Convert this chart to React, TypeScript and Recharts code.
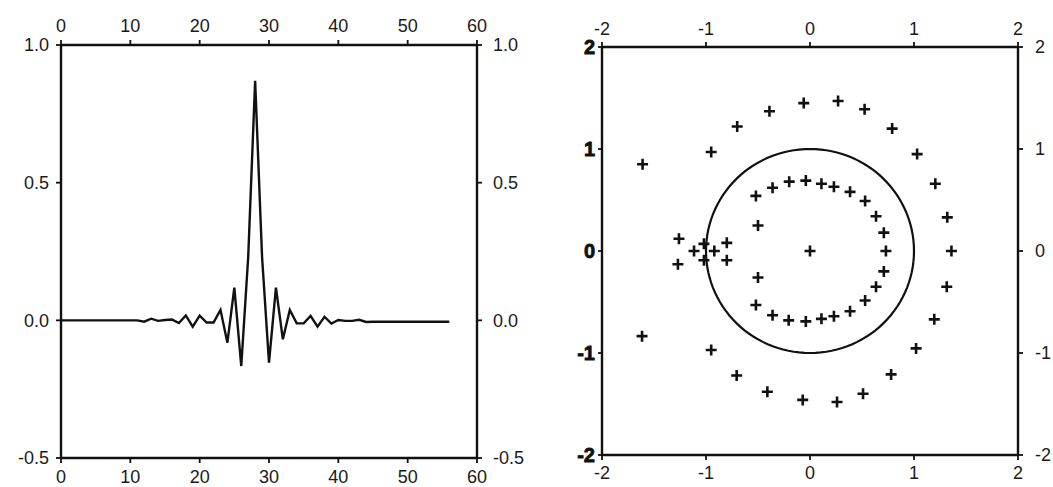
import { LineChart, Line, XAxis, YAxis, ScatterChart, Scatter } from 'recharts';

// impulse response, taps 0..56
const impulse = [
  0, 0, 0, 0, 0, 0, 0, 0, 0, 0, 0, 0,
  -0.005, 0.006, -0.002, 0.001, 0.003, -0.01, 0.018, -0.023, 0.017, -0.008, -0.008, 0.038,
  -0.081, 0.119, -0.166, 0.23, 0.87, 0.23, -0.154, 0.119, -0.069, 0.038, -0.011, -0.011,
  0.016, -0.023, 0.013, -0.012, 0.001, -0.002, -0.002, 0.002, -0.006, -0.005, -0.005, -0.005,
  -0.005, -0.005, -0.005, -0.005, -0.005, -0.005, -0.005, -0.005, -0.005,
];
const tapTicks = [0, 10, 20, 30, 40, 50, 60];
const ampTicks = [-0.5, 0, 0.5, 1];

// zeros in the complex plane
const zeroRe = [
  -1.61, -0.95, -0.7, -0.39, -0.06, 0.27, 0.525, 0.79, 1.03, 1.205, 1.32, 1.36,
  1.315, 1.195, 1.02, 0.78, 0.51, 0.26, -0.07, -0.41, -0.705, -0.95, -1.615,
  -0.52, -0.36, -0.2, -0.04, 0.11, 0.23, 0.385, 0.53, 0.635, 0.71, 0.73,
  0.71, 0.635, 0.53, 0.385, 0.23, 0.11, -0.04, -0.205, -0.36, -0.52, -0.5, -0.5, 0,
  -1.26, -1.27, -1.115, -1.02, -1.02, -0.92, -0.8, -0.8,
];
const zeroIm = [
  0.85, 0.97, 1.22, 1.37, 1.45, 1.47, 1.39, 1.2, 0.95, 0.66, 0.33, 0,
  -0.35, -0.67, -0.955, -1.21, -1.4, -1.48, -1.46, -1.38, -1.22, -0.97, -0.835,
  0.54, 0.62, 0.68, 0.69, 0.66, 0.63, 0.58, 0.49, 0.34, 0.18, 0,
  -0.2, -0.35, -0.485, -0.59, -0.64, -0.665, -0.69, -0.68, -0.63, -0.53, 0.25, -0.26, 0,
  0.12, -0.13, 0, 0.07, -0.09, 0, 0.08, -0.09,
];
const planeTicks = [-2, -1, 0, 1, 2];

const ink = '#111';
const font = '"Liberation Sans", Arial, sans-serif';
const fs = 18;

const impulseData = impulse.map((v, n) => ({ n, v }));
const zeroData = zeroRe.map((x, i) => ({ x, y: zeroIm[i] }));
const unitCircle = Array.from({ length: 121 }, (_, i) => {
  const a = (i / 120) * 2 * Math.PI;
  return { x: Math.cos(a), y: Math.sin(a) };
});

const Plus = (props: any) => {
  const { cx, cy } = props;
  if (cx == null || cy == null) return <g />;
  return (
    <path
      d={`M${cx - 5.5},${cy}H${cx + 5.5}M${cx},${cy - 5.5}V${cy + 5.5}`}
      stroke={ink}
      strokeWidth={2.6}
    />
  );
};

const axisLine = { stroke: ink, strokeWidth: 2.4 };
const tickLine = { stroke: ink, strokeWidth: 1.8 };
const tick = { fill: '#1a1a1a', fontSize: fs, fontFamily: font };
const boldTick = { fill: '#111', fontSize: 20, fontFamily: font, fontWeight: 900, stroke: '#111', strokeWidth: 0.8 };

export default function App() {
  return (
    <div style={{ position: 'absolute', left: 0, top: 0, width: 1053, height: 487, background: '#fff', fontFamily: font, fontSize: fs }}>
      <div style={{ position: 'absolute', left: 0, top: 0 }}>
        <LineChart width={540} height={487} data={impulseData} margin={{ top: 0, right: 13, bottom: 0, left: 0 }}>
          <XAxis xAxisId="bottom" dataKey="n" type="number" orientation="bottom" domain={[0, 60]} ticks={tapTicks}
            height={29} axisLine={axisLine} tickLine={tickLine} tickSize={5} tickMargin={7} tick={tick} fontSize={fs} allowDataOverflow />
          <XAxis xAxisId="top" dataKey="n" type="number" orientation="top" domain={[0, 60]} ticks={tapTicks}
            height={45} axisLine={axisLine} tickLine={tickLine} tickSize={5} tickMargin={8} tick={tick} fontSize={fs} allowDataOverflow />
          <YAxis yAxisId="left" type="number" domain={[-0.5, 1]} ticks={ampTicks} width={61}
            axisLine={axisLine} tickLine={tickLine} tickSize={5} tickMargin={7} tick={tick} fontSize={fs}
            tickFormatter={(v: number) => v.toFixed(1)} allowDataOverflow />
          <YAxis yAxisId="right" orientation="right" type="number" domain={[-0.5, 1]} ticks={ampTicks} width={50}
            axisLine={axisLine} tickLine={tickLine} tickSize={5} tickMargin={11} tick={tick} fontSize={fs}
            tickFormatter={(v: number) => v.toFixed(1)} allowDataOverflow />
          <Line xAxisId="top" yAxisId="right" dataKey="v" stroke="none" dot={false} isAnimationActive={false} />
          <Line xAxisId="bottom" yAxisId="left" type="linear" dataKey="v" stroke={ink} strokeWidth={2.4}
            strokeLinejoin="miter" dot={false} isAnimationActive={false} />
        </LineChart>
      </div>
      <div style={{ position: 'absolute', left: 545, top: 0 }}>
        <ScatterChart width={508} height={487} margin={{ top: 0, right: 0, bottom: 0, left: 0 }}>
          <XAxis xAxisId="bottom" dataKey="x" type="number" orientation="bottom" domain={[-2, 2]} ticks={planeTicks}
            height={32} axisLine={axisLine} tickLine={tickLine} tickSize={5} tickMargin={6} tick={tick} fontSize={fs} allowDataOverflow />
          <XAxis xAxisId="top" dataKey="x" type="number" orientation="top" domain={[-2, 2]} ticks={planeTicks}
            height={47} axisLine={axisLine} tickLine={tickLine} tickSize={5} tickMargin={7} tick={tick} fontSize={fs} allowDataOverflow />
          <YAxis yAxisId="left" dataKey="y" type="number" domain={[-2, 2]} ticks={planeTicks} width={57}
            axisLine={axisLine} tickLine={tickLine} tickSize={4} tickMargin={3} tick={boldTick} fontSize={20} allowDataOverflow />
          <YAxis yAxisId="right" dataKey="y" orientation="right" type="number" domain={[-2, 2]} ticks={planeTicks} width={35}
            axisLine={axisLine} tickLine={tickLine} tickSize={5} tickMargin={12} tick={tick} fontSize={fs} allowDataOverflow />
          <Scatter xAxisId="top" yAxisId="right" data={zeroData} shape={() => <g />} isAnimationActive={false} />
          <Scatter xAxisId="bottom" yAxisId="left" data={unitCircle} line={{ stroke: ink, strokeWidth: 2.2 }}
            lineType="joint" shape={() => <g />} isAnimationActive={false} />
          <Scatter xAxisId="bottom" yAxisId="left" data={zeroData} shape={Plus} isAnimationActive={false} />
        </ScatterChart>
      </div>
    </div>
  );
}
